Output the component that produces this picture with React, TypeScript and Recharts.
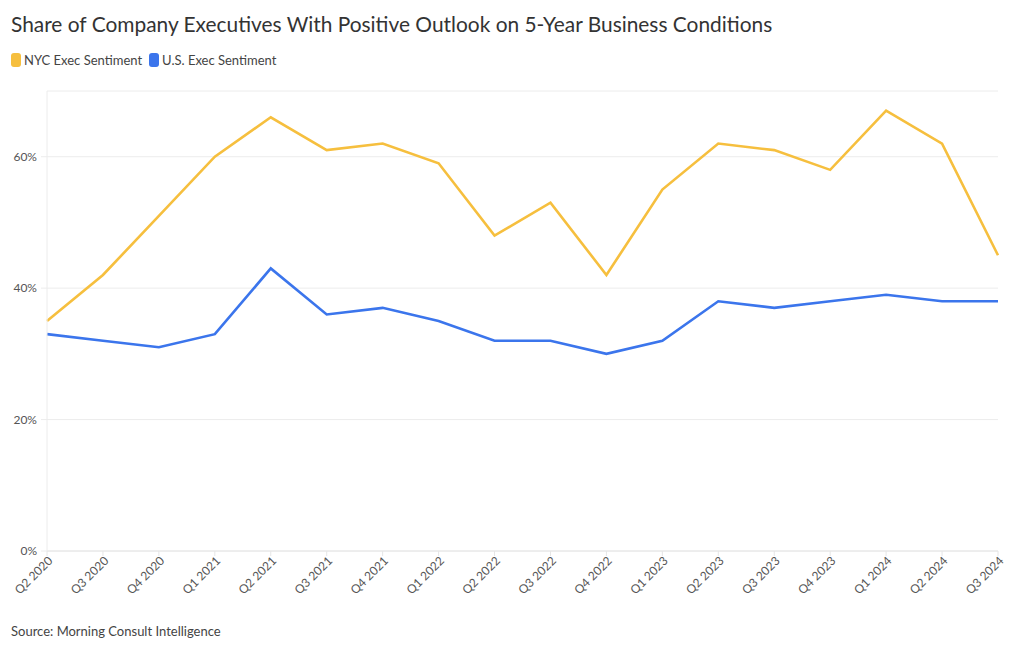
import React from "react";
import { LineChart, Line, XAxis, YAxis, CartesianGrid } from "recharts";

const quarters = [
  "Q2 2020", "Q3 2020", "Q4 2020", "Q1 2021", "Q2 2021", "Q3 2021",
  "Q4 2021", "Q1 2022", "Q2 2022", "Q3 2022", "Q4 2022", "Q1 2023",
  "Q2 2023", "Q3 2023", "Q4 2023", "Q1 2024", "Q2 2024", "Q3 2024",
];
const nycSentiment = [35, 42, 51, 60, 66, 61, 62, 59, 48, 53, 42, 55, 62, 61, 58, 67, 62, 45];
const usSentiment = [33, 32, 31, 33, 43, 36, 37, 35, 32, 32, 30, 32, 38, 37, 38, 39, 38, 38];
const yTicks = [0, 20, 40, 60];

const series = [
  { key: "nyc", name: "NYC Exec Sentiment", color: "#F6BF3E" },
  { key: "us", name: "U.S. Exec Sentiment", color: "#3B75EC" },
];

const data = quarters.map((q, i) => ({ q, nyc: nycSentiment[i], us: usSentiment[i] }));

const FONT = "'Source Sans Pro', Lato, 'Open Sans', sans-serif";

// rotated quarter labels, anchored at the tick
const QuarterTick = ({ x, y, payload }: any) => (
  <g transform={`translate(${x},${y})`}>
    <text
      x={0}
      y={0}
      dy={7}
      dx={2}
      textAnchor="end"
      transform="rotate(-45)"
      fill="#555"
      fontSize={12}
      fontFamily={FONT}
    >
      {payload.value}
    </text>
  </g>
);

export default function App() {
  return (
    <div
      style={{
        position: "absolute",
        top: 0,
        left: 0,
        width: 1020,
        height: 650,
        background: "#fff",
        fontFamily: FONT,
      }}
    >
      <div style={{ position: "absolute", left: 11, top: 11, fontSize: 20.9, color: "#333" }}>
        Share of Company Executives With Positive Outlook on 5-Year Business Conditions
      </div>
      <div style={{ position: "absolute", left: 11, top: 52, display: "flex", fontSize: 13, color: "#444" }}>
        {series.map((s) => (
          <div key={s.key} style={{ display: "flex", alignItems: "center", marginRight: 7 }}>
            <span
              style={{
                display: "inline-block",
                width: 10,
                height: 14,
                borderRadius: 3,
                background: s.color,
                marginRight: 3,
              }}
            />
            {s.name}
          </div>
        ))}
      </div>
      <LineChart
        width={1020}
        height={651}
        data={data}
        margin={{ top: 91, right: 22, left: 0, bottom: 0 }}
        style={{ position: "absolute", top: 0, left: 0 }}
      >
        <CartesianGrid vertical={false} stroke="#ececec" />
        <XAxis
          dataKey="q"
          interval={0}
          height={100}
          tick={<QuarterTick />}
          axisLine={{ stroke: "#e6e6e6" }}
          tickLine={{ stroke: "#e6e6e6" }}
          tickSize={5}
        />
        <YAxis
          width={47}
          domain={[0, 70]}
          ticks={yTicks}
          tickFormatter={(v: number) => `${v}%`}
          axisLine={{ stroke: "#ececec" }}
          tickLine={{ stroke: "#ececec" }}
          tickSize={6}
          tickMargin={4}
          tick={{ fill: "#555", fontSize: 12, fontFamily: FONT }}
        />
        {series.map((s) => (
          <Line
            key={s.key}
            dataKey={s.key}
            name={s.name}
            type="linear"
            stroke={s.color}
            strokeWidth={2.6}
            dot={false}
            isAnimationActive={false}
          />
        ))}
      </LineChart>
      <div style={{ position: "absolute", left: 11, top: 623, fontSize: 13, color: "#444" }}>
        Source: Morning Consult Intelligence
      </div>
    </div>
  );
}
